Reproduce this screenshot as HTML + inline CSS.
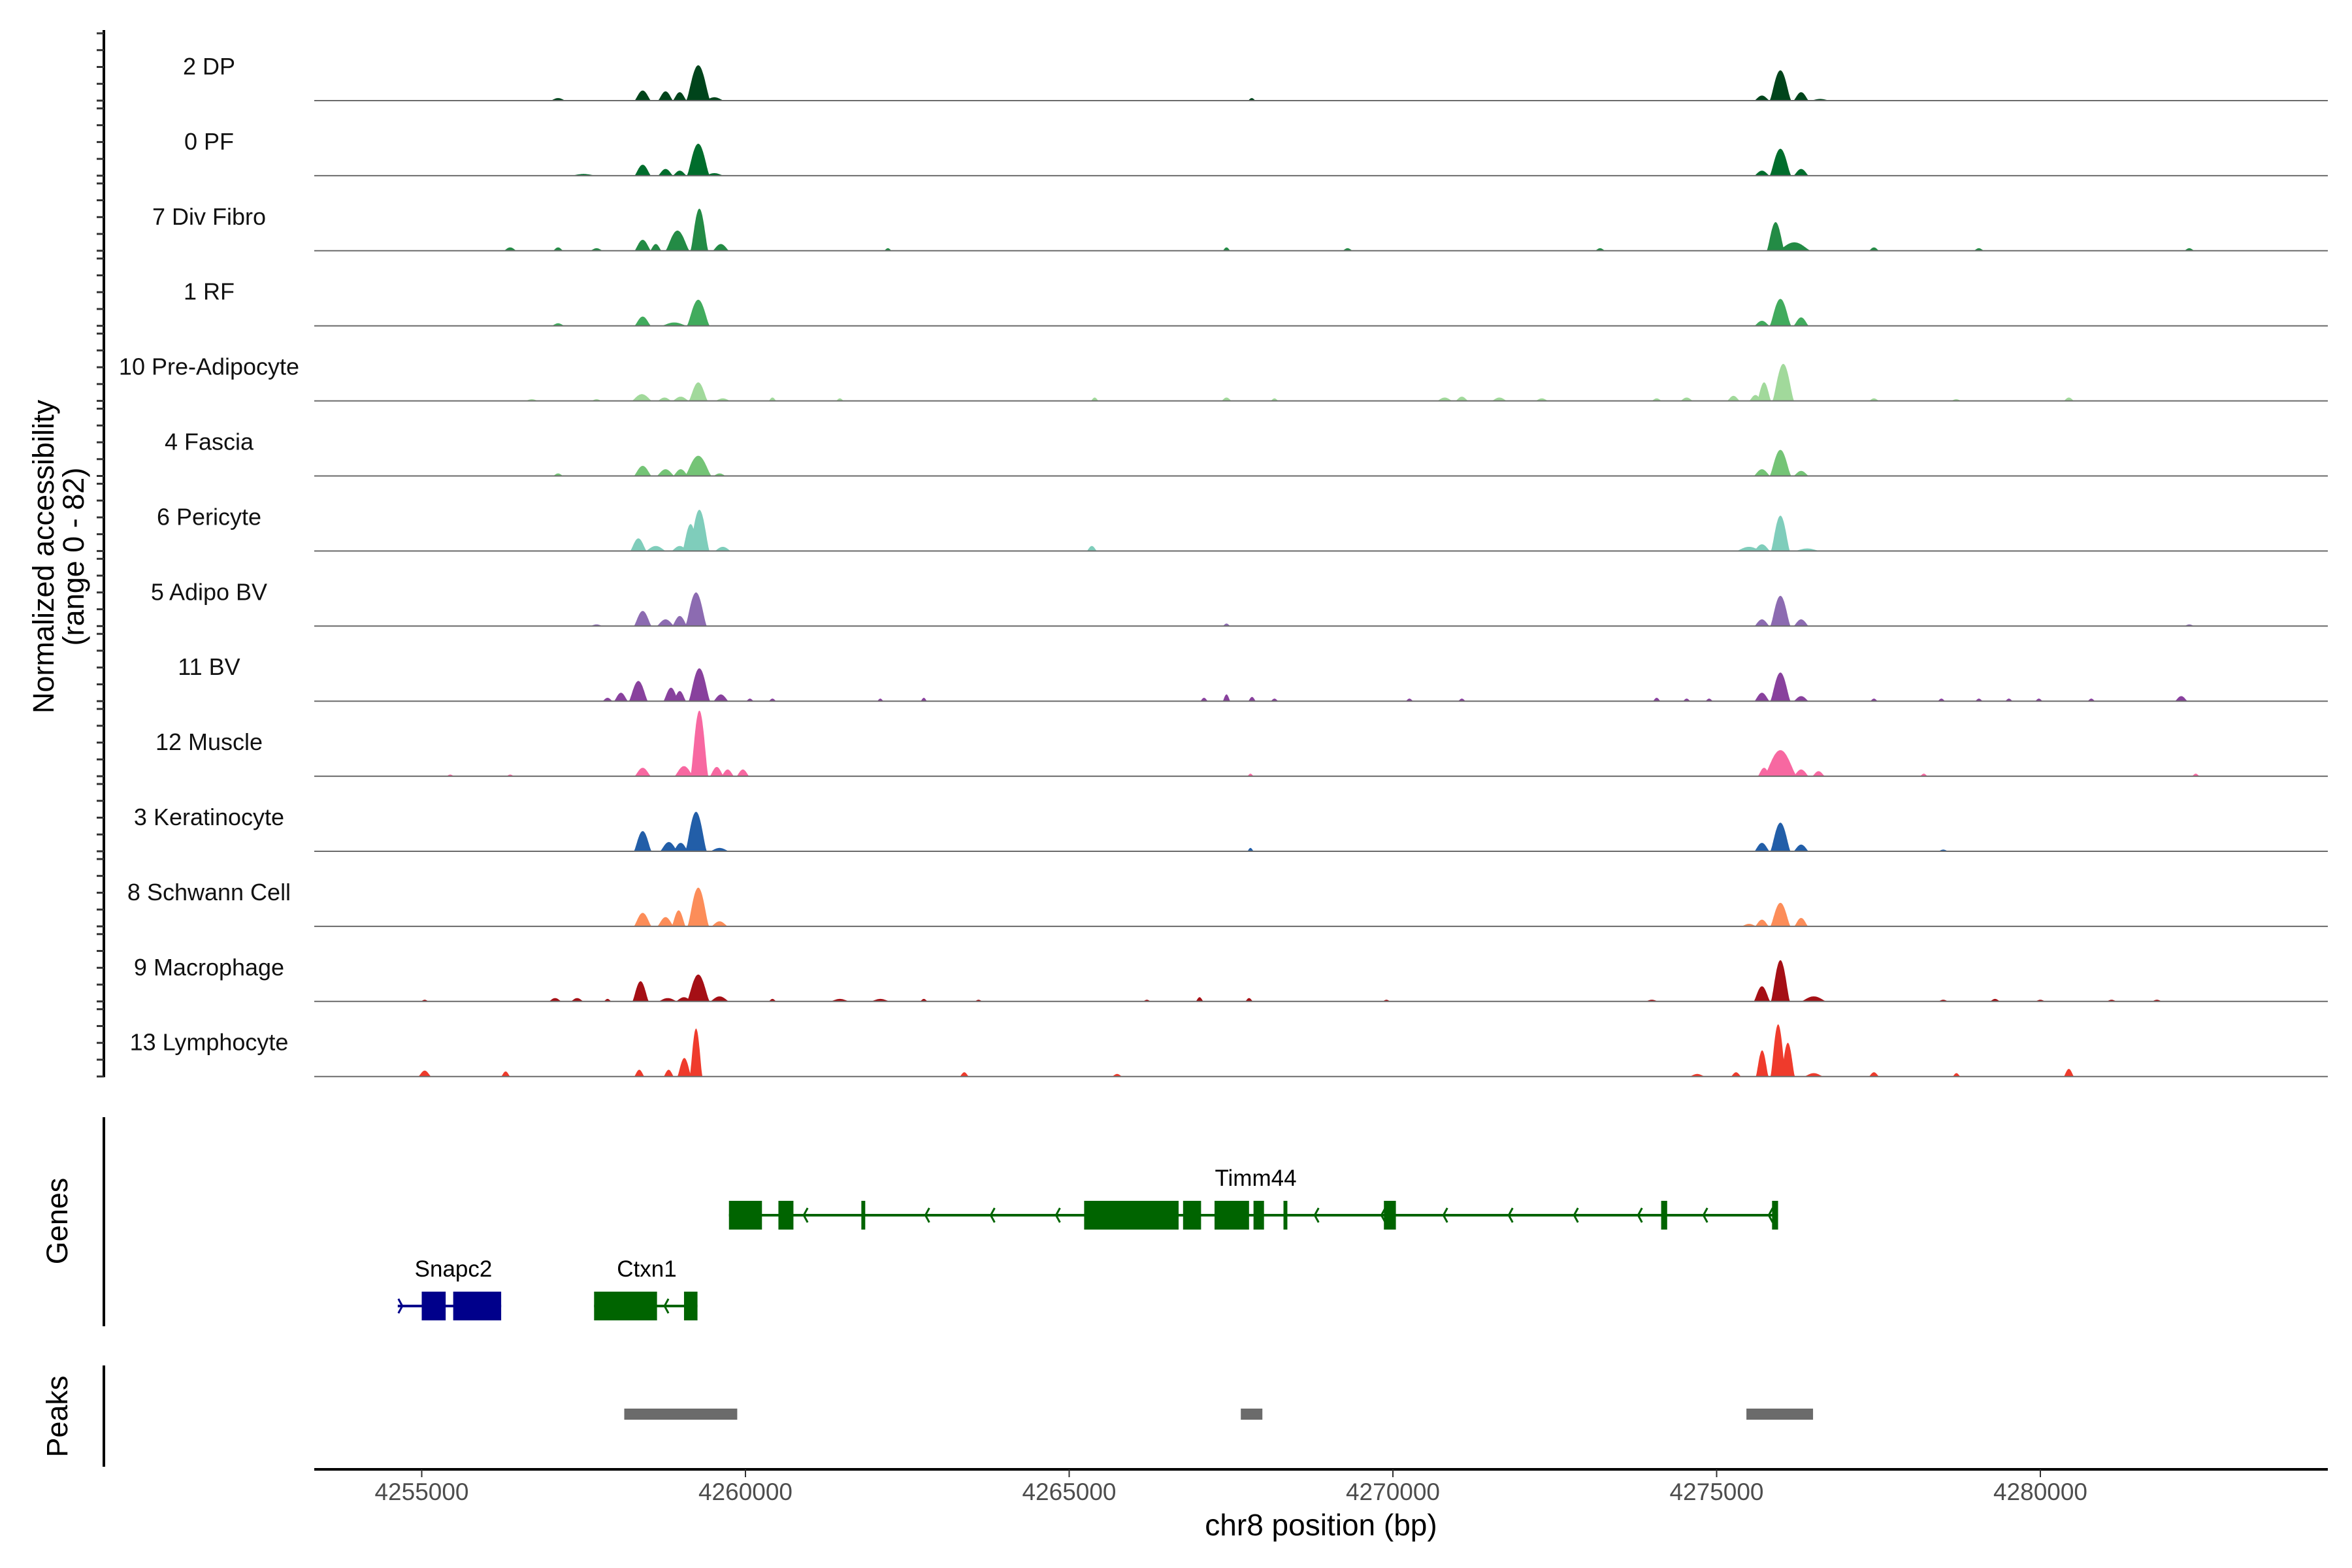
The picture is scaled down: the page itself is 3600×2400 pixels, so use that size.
<!DOCTYPE html>
<html><head><meta charset="utf-8"><style>
html,body{margin:0;padding:0;background:#fff;}
svg{display:block;font-family:"Liberation Sans",sans-serif;}
</style></head><body>
<svg id="chart" width="3600" height="2400" viewBox="0 0 3600 2400" xmlns="http://www.w3.org/2000/svg"></svg>
<script>
const trackNames = ["2 DP","0 PF","7 Div Fibro","1 RF","10 Pre-Adipocyte","4 Fascia","6 Pericyte","5 Adipo BV","11 BV","12 Muscle","3 Keratinocyte","8 Schwann Cell","9 Macrophage","13 Lymphocyte"];
const trackColors = ["#00441b","#006d2c","#238b45","#41ab5d","#a1d99b","#74c476","#7fcdbb","#8c6bb1","#88419d","#f768a1","#225ea8","#fc8d59","#a50f15","#ef3b2c"];
// bumps: [center bp, height (0-82 units), half-width bp]
const bumpsDP = [[4257106,3,120],[4258413,12,130],[4258766,11,120],[4258985,10,110],[4259271,42,190],[4259520,4,150],[4267820,3,60],[4275700,6,120],[4275985,36,170],[4276305,10,120],[4276600,2,150]];
const bumpsPF = [[4257500,2,200],[4258413,13,130],[4258766,8,120],[4258985,6,110],[4259271,38,180],[4259520,3,150],[4275700,6,120],[4275985,32,170],[4276305,8,120]];
const bumpsDiv = [[4256366,4,100],[4257106,4,80],[4257700,3,100],[4258413,13,130],[4258615,8,90],[4258950,24,190],[4259288,50,140],[4259620,8,130],[4262200,3,60],[4267430,4,60],[4269300,3,80],[4273200,3,80],[4275911,34,140],[4276200,10,260],[4277430,4,80],[4279050,3,80],[4282300,3,80]];
const bumpsRF = [[4257106,3,100],[4258413,11,130],[4258900,4,200],[4259271,31,180],[4275700,6,120],[4275985,32,170],[4276305,10,120]];
const bumpsPre = [[4256700,2,100],[4257700,2,80],[4258400,8,160],[4258750,4,110],[4259000,5,130],[4259271,22,150],[4259650,3,120],[4260417,4,60],[4261458,3,60],[4265394,4,60],[4267430,4,80],[4268171,3,60],[4270800,4,120],[4271065,5,100],[4271644,4,120],[4272300,3,100],[4274074,3,80],[4274537,4,100],[4275260,6,100],[4275600,7,100],[4275733,22,110],[4276029,44,170],[4277430,3,80],[4278700,2,80],[4280440,4,80]];
const bumpsFas = [[4257106,3,80],[4258413,12,140],[4258766,8,140],[4259000,8,120],[4259271,24,210],[4259600,3,100],[4275700,8,130],[4275985,31,170],[4276305,6,120]];
const bumpsPeri = [[4258346,15,130],[4258615,6,160],[4258985,6,130],[4259153,32,130],[4259288,49,160],[4259650,5,130],[4265350,6,80],[4275500,5,200],[4275700,8,130],[4275985,42,150],[4276400,3,200]];
const bumpsAdBV = [[4257700,2,100],[4258413,18,140],[4258766,8,140],[4258985,12,120],[4259237,40,170],[4267430,3,60],[4275700,8,120],[4275985,36,160],[4276305,8,120],[4282300,2,80]];
const bumpsBV = [[4257870,4,80],[4258077,10,110],[4258346,24,150],[4258850,16,120],[4258985,12,100],[4259288,39,170],[4259621,8,120],[4259653,3,60],[4260069,3,60],[4260417,3,60],[4262083,3,50],[4262755,4,50],[4267083,4,60],[4267430,8,60],[4267824,5,60],[4268171,3,60],[4270255,3,60],[4271065,3,60],[4274074,4,60],[4274537,3,60],[4274884,3,60],[4275700,10,120],[4275985,34,160],[4276305,6,120],[4277430,3,60],[4278472,3,60],[4279051,3,60],[4279514,3,60],[4279977,3,60],[4280787,3,60],[4282176,6,100]];
const bumpsMus = [[4255440,2,60],[4256366,2,60],[4258413,10,130],[4259050,12,150],[4259288,78,140],[4259557,11,110],[4259725,8,100],[4259960,8,100],[4267800,3,50],[4275733,10,100],[4275985,31,260],[4276305,8,120],[4276574,6,100],[4278200,3,60],[4282400,3,60]];
const bumpsKer = [[4258413,24,140],[4258817,11,140],[4259000,10,120],[4259237,47,170],[4259600,4,150],[4267800,4,50],[4275700,10,120],[4275985,34,160],[4276305,8,120],[4278500,2,80]];
const bumpsSch = [[4258413,16,140],[4258766,11,130],[4258968,19,110],[4259271,46,170],[4259600,6,130],[4275500,3,120],[4275700,8,110],[4275985,28,160],[4276305,10,110]];
const bumpsMac = [[4255046,2,60],[4257060,4,100],[4257400,4,100],[4257870,3,60],[4258380,24,130],[4258800,4,150],[4259050,5,130],[4259271,32,180],[4259600,6,150],[4260417,3,60],[4261458,3,150],[4262083,3,150],[4262755,3,60],[4263600,2,60],[4266200,2,60],[4267014,5,60],[4267778,4,60],[4269900,2,60],[4274000,2,100],[4275700,18,130],[4275985,49,150],[4276500,6,200],[4278500,2,80],[4279300,3,80],[4280000,2,80],[4281100,2,80],[4281800,2,80]];
const bumpsLym = [[4255046,7,100],[4256296,6,70],[4258360,8,80],[4258814,8,80],[4259056,22,110],[4259237,57,100],[4263380,5,70],[4265740,3,80],[4274700,3,120],[4275300,5,80],[4275703,31,100],[4275950,62,120],[4276100,40,110],[4276500,4,150],[4277430,5,80],[4278704,4,60],[4280440,9,80]];
const allBumps = [bumpsDP,bumpsPF,bumpsDiv,bumpsRF,bumpsPre,bumpsFas,bumpsPeri,bumpsAdBV,bumpsBV,bumpsMus,bumpsKer,bumpsSch,bumpsMac,bumpsLym];
const xTicks = [4255000,4260000,4265000,4270000,4275000,4280000];
const peakRegions = [[4258128,4259873],[4267651,4267984],[4275460,4276489]];
const timmExons = [[4259745,4260255],[4260509,4260741],[4261790,4261850],[4265231,4266690],[4266759,4267037],[4267245,4267778],[4267847,4268009],[4268310,4268370],[4269861,4270046],[4274143,4274236],[4275856,4275949]];
const timmChevrons = [4260900,4262779,4263788,4264797,4268792,4269822,4270780,4271789,4272798,4273787,4274796,4275805];
const snapExons = [[4255000,4255370],[4255486,4256227]];
const ctxnExons = [[4257662,4258634],[4259051,4259259]];

const NS="http://www.w3.org/2000/svg";
const svg=document.getElementById('chart');
const X0=4253340,X1=4284440,PX0=481,PX1=3563;
function xs(bp){return PX0+(bp-X0)/(X1-X0)*(PX1-PX0);}
const B0=154,STEP=114.9,UPX=1.2875;
function base(i){return B0+i*STEP;}
function mk(tag,attrs,parent){const e=document.createElementNS(NS,tag);for(const k in attrs)e.setAttribute(k,attrs[k]);(parent||svg).appendChild(e);return e;}
function txt(s,attrs){const e=mk('text',attrs);e.textContent=s;return e;}

let e=mk('line',{x1:159,y1:46,x2:159,y2:base(13)+1,stroke:'#000','stroke-width':4});


for(let i=0;i<14;i++){for(let v=0;v<=80;v+=20){const y=base(i)-v*UPX;
 e=mk('line',{x1:148,y1:y,x2:159,y2:y,stroke:'#333','stroke-width':3});
 
 }}
e=txt('Normalized accessibility',{x:0,y:0,'font-size':45,'text-anchor':'middle',transform:'translate(82,852) rotate(-90)'});


e=txt('(range 0 - 82)',{x:0,y:0,'font-size':45,'text-anchor':'middle',transform:'translate(128,852) rotate(-90)'});



for(let i=0;i<14;i++){
 const b=base(i);
 const g=mk('g',{});
 
 
 const lab=txt(trackNames[i],{x:320,y:b-40,'font-size':36,'text-anchor':'middle',fill:'#111'});
 
 
 for(const bm of allBumps[i]){
  const [c,h,hw]=bm;
  let d='M'+xs(c-hw).toFixed(1)+','+b;
  for(let k=-24;k<=24;k++){const t=k/24;const v=h*Math.pow(1-t*t,1.6);d+=' L'+xs(c+t*hw).toFixed(1)+','+(b-v*UPX).toFixed(1);}
  d+=' L'+xs(c+hw).toFixed(1)+','+b+' Z';
  const p=mk('path',{d:d,fill:trackColors[i]},g);
  
  
 }
 const bl=mk('line',{x1:PX0,y1:b,x2:PX1,y2:b,stroke:'#6a6a6a','stroke-width':2},g);
 
 
}

e=mk('line',{x1:159,y1:1710,x2:159,y2:2030,stroke:'#000','stroke-width':4});


e=txt('Genes',{x:0,y:0,'font-size':45,'text-anchor':'middle',transform:'translate(103,1869) rotate(-90)'});


function gene(name,exons,lineStart,lineEnd,yc,color,labelX,chev,dir){
 const g=mk('g',{});
 
 
 mk('line',{x1:xs(lineStart),y1:yc,x2:xs(lineEnd),y2:yc,stroke:color,'stroke-width':4},g);
 for(const ex of exons){const r=mk('rect',{x:xs(ex[0]),y:yc-22,width:Math.max(4,xs(ex[1])-xs(ex[0])),height:44,fill:color},g);
  
  }
 for(const c of chev){const x=xs(c);const p=mk('polyline',{points:dir<0?`${x+6},${yc-11} ${x},${yc} ${x+6},${yc+11}`:`${x-6},${yc-11} ${x},${yc} ${x-6},${yc+11}`,fill:'none',stroke:color,'stroke-width':3},g);
  
  }
 const t=txt(name,{x:labelX,y:yc-45,'font-size':35,'text-anchor':'middle',fill:'#000'});
 
 
}
gene('Timm44',timmExons,4259745,4275949,1860,'#006400',1922,timmChevrons,-1);
gene('Snapc2',snapExons,4254630,4256227,1999,'#00008b',694,[4254700],1);
gene('Ctxn1',ctxnExons,4257662,4259259,1999,'#006400',990,[4258750],-1);

e=mk('line',{x1:159,y1:2090,x2:159,y2:2245,stroke:'#000','stroke-width':4});


e=txt('Peaks',{x:0,y:0,'font-size':45,'text-anchor':'middle',transform:'translate(103,2168) rotate(-90)'});


for(const pk of peakRegions){
 e=mk('rect',{x:xs(pk[0]),y:2156,width:xs(pk[1])-xs(pk[0]),height:17,fill:'#6b6b6b'});
 
 
}

e=mk('line',{x1:PX0,y1:2249,x2:PX1,y2:2249,stroke:'#000','stroke-width':4});


for(const t of xTicks){
 e=mk('line',{x1:xs(t),y1:2249,x2:xs(t),y2:2261,stroke:'#333','stroke-width':2});
 
 
 e=txt(String(t),{x:xs(t),y:2296,'font-size':37,'text-anchor':'middle',fill:'#4d4d4d'});
 
 
}
e=txt('chr8 position (bp)',{x:2022,y:2350,'font-size':46,'text-anchor':'middle',fill:'#000'});


</script>
</body></html>
